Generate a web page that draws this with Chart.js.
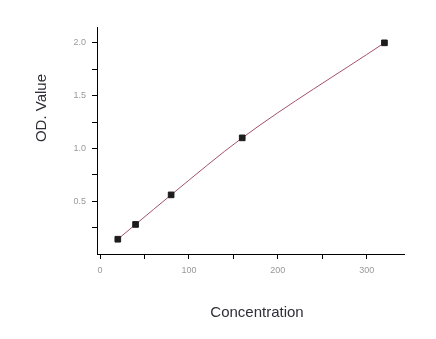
<!DOCTYPE html>
<html>
<head>
<meta charset="utf-8">
<script src="https://cdn.jsdelivr.net/npm/chart.js@4.4.1/dist/chart.umd.min.js"></script>
<style>
  html, body { margin: 0; padding: 0; background: #fff; }
  #wrap { width: 436px; height: 339px; }
</style>
</head>
<body>
<div id="wrap"><canvas id="grafico" width="436" height="339"></canvas></div>
<script>
// Curva estándar: concentración vs. valor OD
const concentracion = [20, 40, 80, 160, 320];
const valorOD = [0.14, 0.28, 0.56, 1.10, 2.00];

// Ticks (los menores van sin etiqueta)
const ticksX = [0, 50, 100, 150, 200, 250, 300];
const etiquetasX = ["0", "", "100", "", "200", "", "300"];
const ticksY = [0.25, 0.5, 0.75, 1.0, 1.25, 1.5, 1.75, 2.0];
const etiquetasY = ["", "0.5", "", "1.0", "", "1.5", "", "2.0"];

const tituloX = "Concentration";
const tituloY = "OD. Value";

const FUENTE = "'Liberation Sans', Arial, sans-serif";

// Títulos de ejes dibujados a mano (no van centrados sobre el eje).
const titulosEjes = {
  id: "titulosEjes",
  afterDraw(chart) {
    const { ctx } = chart;
    ctx.save();
    ctx.fillStyle = "#2e2e38";
    ctx.font = "15px " + FUENTE;
    ctx.textAlign = "center";
    ctx.textBaseline = "middle";
    ctx.fillText(tituloX, 257, 313);
    ctx.translate(42, 108);
    ctx.rotate(-Math.PI / 2);
    ctx.fillText(tituloY, 0, 0);
    ctx.restore();
  },
};

function ejeComun(ticks, etiquetas, tamFuente, padding) {
  return {
    type: "linear",
    afterBuildTicks: (s) => {
      s.ticks = ticks.map((v) => ({ value: v }));
    },
    grid: { drawOnChartArea: false, tickLength: 5, tickColor: "#000", tickWidth: 1 },
    border: { color: "#000", width: 1 },
    ticks: {
      callback: (v, i) => etiquetas[i],
      color: "#999",
      font: { size: tamFuente, family: FUENTE },
      padding,
      autoSkip: false,
      maxRotation: 0,
    },
  };
}

new Chart(document.getElementById("grafico"), {
  type: "scatter",
  data: {
    datasets: [
      {
        data: concentracion.map((x, i) => ({ x, y: valorOD[i] })),
        showLine: true,
        cubicInterpolationMode: "monotone",
        borderColor: "#a3506e",
        borderWidth: 1,
        pointStyle: "rect",
        pointRadius: 4,
        pointBackgroundColor: "#1c1c1c",
        pointBorderColor: "#1c1c1c",
        pointBorderWidth: 1,
      },
    ],
  },
  options: {
    responsive: false,
    animation: false,
    devicePixelRatio: 1,
    layout: { padding: { top: 27, right: 32, bottom: 0, left: 0 } },
    plugins: { legend: { display: false }, tooltip: { enabled: false } },
    scales: {
      x: {
        ...ejeComun(ticksX, etiquetasX, 9, 6),
        min: -3.4,
        max: 342,
        afterFit: (s) => { s.height = 85; },
      },
      y: {
        ...ejeComun(ticksY, etiquetasY, 9, 6),
        min: 0,
        max: 2.15,
        afterFit: (s) => { s.width = 97; },
      },
    },
  },
  plugins: [titulosEjes],
});
</script>
</body>
</html>
